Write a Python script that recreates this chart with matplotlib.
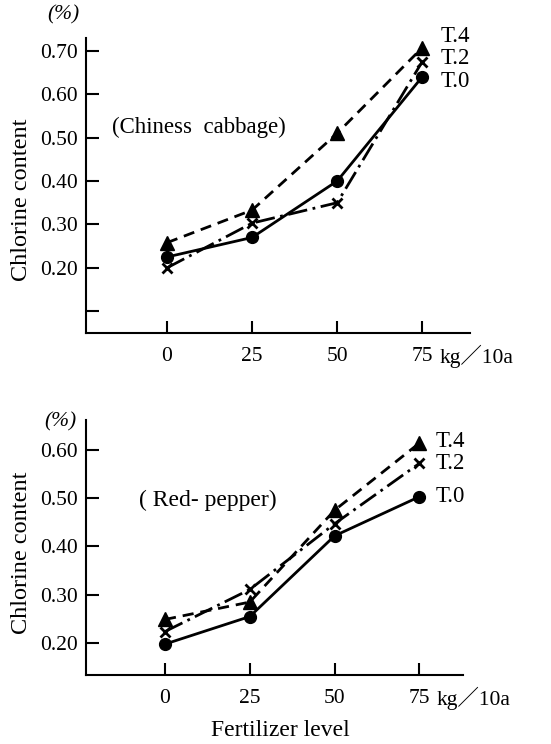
import matplotlib.pyplot as plt

plt.rcParams['font.family'] = ['Liberation Serif', 'Noto Sans CJK JP']

# niveis de adubacao (kg/10a)
niveis = [0, 25, 50, 75]

# Chiness cabbage
repolho_t4 = [0.258, 0.333, 0.51, 0.707]
repolho_t2 = [0.20, 0.303, 0.35, 0.675]
repolho_t0 = [0.225, 0.27, 0.40, 0.64]

# Red-pepper
pimenta_t4 = [0.249, 0.285, 0.475, 0.614]
pimenta_t2 = [0.224, 0.311, 0.447, 0.572]
pimenta_t0 = [0.198, 0.255, 0.422, 0.503]

rotulos = ['T.4', 'T.2', 'T.0']

fig = plt.figure(figsize=(5.51, 7.44), dpi=100)
ax1 = fig.add_axes([0.156, 0.5524, 0.697, 0.397])
ax2 = fig.add_axes([0.156, 0.0927, 0.684, 0.343])


def desenhar(ax, t4, t2, t0, ylim, xlim, yticks, ylabels):
    ax.plot(niveis, t4, color='black', lw=2, ls=(0, (4, 2.5)),
            marker='^', ms=10, clip_on=False)
    ax.plot(niveis, t2, color='black', lw=2, ls=(0, (7, 2, 1, 2)),
            marker='x', ms=7, mew=2, clip_on=False)
    ax.plot(niveis, t0, color='black', lw=2, ls='-',
            marker='o', ms=8.5, clip_on=False)
    ax.set_xlim(*xlim)
    ax.set_ylim(*ylim)
    ax.set_yticks(yticks)
    ax.set_yticklabels(ylabels)
    ax.set_xticks(niveis)
    ax.set_xticklabels(['0', '25', '50', '75'])
    ax.spines['top'].set_visible(False)
    ax.spines['right'].set_visible(False)
    ax.spines['left'].set_linewidth(1.5)
    ax.spines['bottom'].set_linewidth(1.5)
    ax.tick_params(direction='in', length=9, width=1.5, labelsize=15.5, pad=6)
    ax.tick_params(axis='x', pad=10)
    # unidade ao lado do ultimo rotulo
    ax.annotate('kg／10a', xy=(80.2, ylim[0]), xycoords='data',
                xytext=(0, -16.5), textcoords='offset points', fontsize=15.5,
                va='center', ha='left', annotation_clip=False)


desenhar(ax1, repolho_t4, repolho_t2, repolho_t0, (0.05, 0.73), (-23.8, 89),
         [0.1, 0.2, 0.3, 0.4, 0.5, 0.6, 0.7],
         ['', '0.20', '0.30', '0.40', '0.50', '0.60', '0.70'])
desenhar(ax2, pimenta_t4, pimenta_t2, pimenta_t0, (0.134, 0.662), (-23.3, 87.8),
         [0.2, 0.3, 0.4, 0.5, 0.6],
         ['0.20', '0.30', '0.40', '0.50', '0.60'])

for rot, y in zip(rotulos, [0.733, 0.681, 0.630]):
    ax1.text(80.3, y, rot, fontsize=16.5, va='center', ha='left', clip_on=False)
for rot, y in zip(rotulos, [0.617, 0.571, 0.503]):
    ax2.text(79.8, y, rot, fontsize=16.5, va='center', ha='left', clip_on=False)

ax1.text(-16.2, 0.523, '(Chiness  cabbage)', fontsize=16.5, va='center', ha='left')
ax2.text(-7.7, 0.496, '( Red- pepper)', fontsize=17, va='center', ha='left')

fig.text(63 / 551, 1 - 15 / 744, '(%)', fontsize=15.5, style='italic', ha='center', va='center')
fig.text(60 / 551, 1 - 422 / 744, '(%)', fontsize=15.5, style='italic', ha='center', va='center')
fig.text(22 / 551, 1 - 200 / 744, 'Chlorine content', fontsize=17.5, rotation=90,
         ha='center', va='center')
fig.text(22 / 551, 1 - 553 / 744, 'Chlorine content', fontsize=17.5, rotation=90,
         ha='center', va='center')
fig.text(280 / 551, 1 - 730 / 744, 'Fertilizer level', fontsize=17,
         ha='center', va='center')

fig.savefig('out.png', dpi=100)
